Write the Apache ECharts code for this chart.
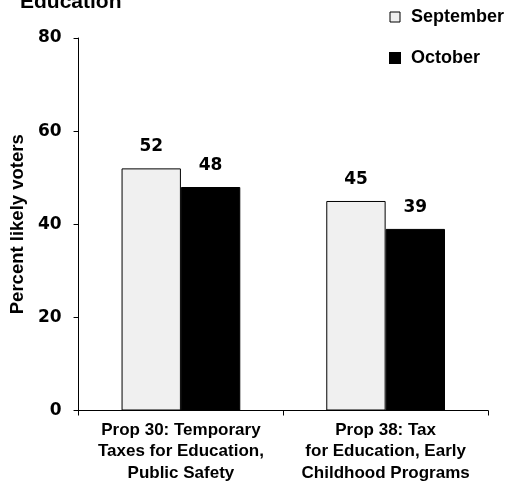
<!DOCTYPE html>
<html><head><meta charset="utf-8">
<script src="https://cdn.jsdelivr.net/npm/echarts@6/dist/echarts.min.js"></script>
<style>html,body{margin:0;padding:0;background:#fff}#c{width:510px;height:484px}</style>
</head><body><div id="c"></div>
<script>
const categories = ["Prop 30: Temporary\nTaxes for Education,\nPublic Safety", "Prop 38: Tax\nfor Education, Early\nChildhood Programs"];
const september = [52, 45];
const october = [48, 39];
const yTicks = [0, 20, 40, 60, 80];
const F = '"Liberation Sans", Arial, sans-serif';
const FN = '"DejaVu Sans", sans-serif';
const chart = echarts.init(document.getElementById('c'));
chart.setOption({
  animation: false,
  title: { text: 'Education', left: 15, top: -13, textStyle: { fontFamily: F, fontWeight: 'bold', fontSize: 21, color: '#000' } },
  legend: {
    orient: 'vertical', left: 384, top: 3, itemGap: 23, itemWidth: 10, itemHeight: 10,
    textStyle: { fontFamily: F, fontWeight: 'bold', fontSize: 18, color: '#000', padding: [0, 0, 0, 6] },
    data: [
      { name: 'September', icon: 'rect', itemStyle: { color: '#f0f0f0', borderColor: '#000', borderWidth: 1 } },
      { name: 'October', icon: 'rect', itemStyle: { color: '#000' } }
    ]
  },
  grid: { left: 78, right: 22, top: 38, bottom: 68, containLabel: false },
  xAxis: {
    type: 'category', data: categories,
    axisLine: { lineStyle: { color: '#000', width: 1 } },
    axisTick: { show: true, length: 5, lineStyle: { color: '#000' } },
    axisLabel: { interval: 0, fontFamily: F, fontWeight: 'bold', fontSize: 17, color: '#000', lineHeight: 21.5, margin: 9 }
  },
  yAxis: {
    type: 'value', min: yTicks[0], max: yTicks[yTicks.length - 1], interval: 20,
    name: 'Percent likely voters', nameLocation: 'middle', nameGap: 50,
    nameTextStyle: { fontFamily: F, fontWeight: 'bold', fontSize: 18.5, color: '#000' },
    axisLine: { show: true, lineStyle: { color: '#000', width: 1 } },
    axisTick: { show: true, length: 5, lineStyle: { color: '#000' } },
    splitLine: { show: false },
    axisLabel: { fontFamily: FN, fontWeight: 'bold', fontSize: 17, color: '#000', margin: 17 }
  },
  series: [
    { name: 'September', type: 'bar', data: september, barGap: '0%', barCategoryGap: '42%',
      itemStyle: { color: '#f0f0f0', borderColor: '#000', borderWidth: 1 },
      label: { show: true, position: 'top', distance: 13, fontFamily: FN, fontWeight: 'bold', fontSize: 17, color: '#000' } },
    { name: 'October', type: 'bar', data: october,
      itemStyle: { color: '#000', borderColor: '#000', borderWidth: 1 },
      label: { show: true, position: 'top', distance: 13, fontFamily: FN, fontWeight: 'bold', fontSize: 17, color: '#000' } }
  ]
});
</script></body></html>
